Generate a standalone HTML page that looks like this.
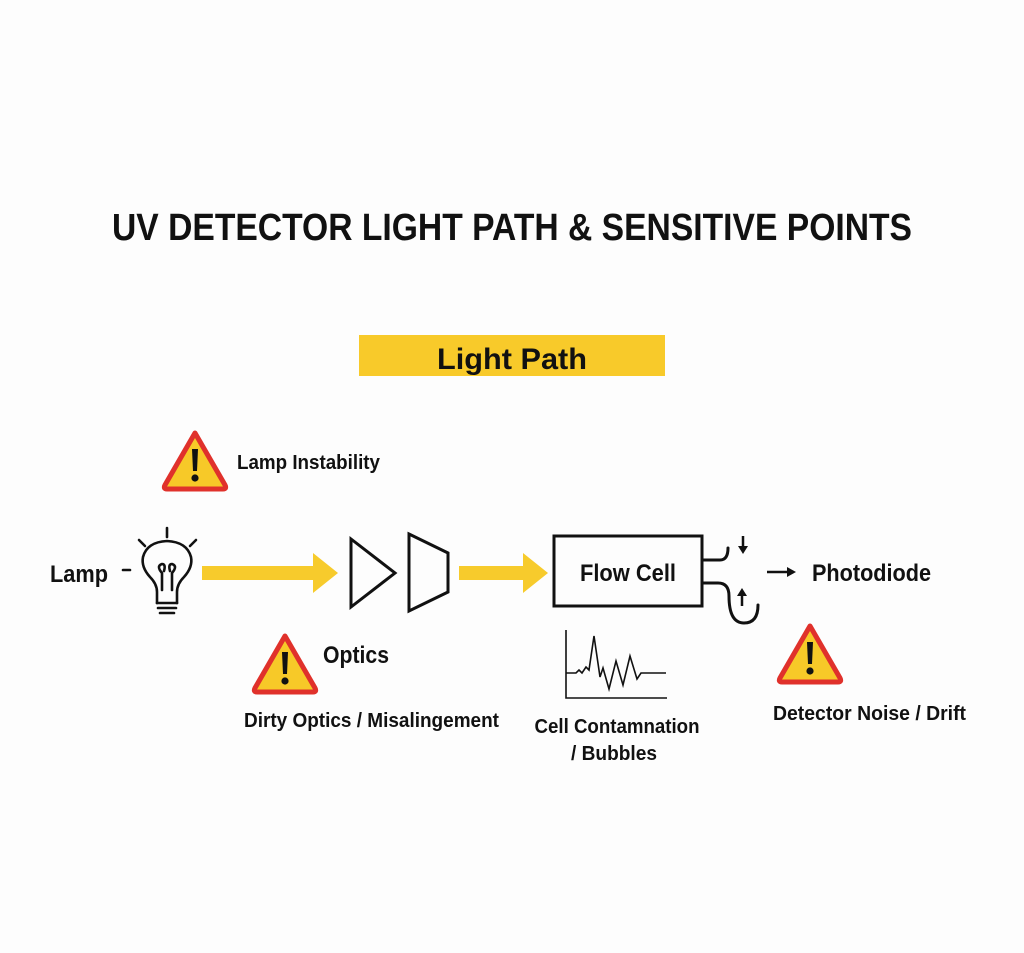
<!DOCTYPE html>
<html><head><meta charset="utf-8"><style>
html,body{margin:0;padding:0;background:#fdfdfd}
svg{display:block}
text{font-family:"Liberation Sans Narrow","Liberation Sans",sans-serif;font-weight:bold;fill:#111}
</style></head><body>
<svg width="1024" height="953" viewBox="0 0 1024 953" xmlns="http://www.w3.org/2000/svg">
<defs>
<g id="warn">
<path d="M34 4 L64 56 Q66 60 62 60 L6 60 Q2 60 4 56 Z" fill="#F7C928" stroke="#E0312B" stroke-width="5" stroke-linejoin="round"/>
<path d="M31 20 L37 20 L36 42 L32 42 Z" fill="#111"/>
<circle cx="34" cy="49" r="3.6" fill="#111"/>
</g>
</defs>
<text x="512" y="240" font-size="38" text-anchor="middle" textLength="800" lengthAdjust="spacingAndGlyphs">UV DETECTOR LIGHT PATH &amp; SENSITIVE POINTS</text>
<rect x="359" y="335" width="306" height="41" fill="#F8CA2A"/>
<text x="512" y="369" font-size="30" text-anchor="middle" textLength="150" lengthAdjust="spacingAndGlyphs">Light Path</text>

<use href="#warn" x="161" y="429"/>
<text x="237" y="469" font-size="20" textLength="143" lengthAdjust="spacingAndGlyphs">Lamp Instability</text>

<text x="50" y="582" font-size="24" textLength="58" lengthAdjust="spacingAndGlyphs">Lamp</text>
<!-- bulb -->
<g fill="none" stroke="#111" stroke-width="2.6" stroke-linecap="round">
<line x1="123" y1="570" x2="130" y2="570"/>
<line x1="167" y1="528" x2="167" y2="537"/>
<line x1="139" y1="540" x2="145" y2="546"/>
<line x1="196" y1="540" x2="190" y2="546"/>
<path d="M157 603 L157 592 Q157 584 150 577 Q141 567 143 557 Q147 542 167 541 Q187 542 191 557 Q193 567 184 577 Q177 584 177 592 L177 603"/>
<path d="M162 590 L162 573 M172 590 L172 573 M162 573 Q156 566 162 564 Q166 564 164 571 M172 573 Q178 566 172 564 Q168 564 170 571"/>
<line x1="157" y1="603" x2="177" y2="603"/>
<line x1="158" y1="608" x2="176" y2="608"/>
<path d="M160 613 L174 613"/>
</g>
<!-- arrow 1 -->
<path d="M202 566 L313 566 L313 553 L338 573 L313 593 L313 580 L202 580 Z" fill="#F7CB2C"/>
<!-- optics -->
<path d="M351 539 L395 573 L351 607 Z" fill="none" stroke="#111" stroke-width="3" stroke-linejoin="miter"/>
<path d="M409 534 L448 553 L448 592 L409 611 Z" fill="none" stroke="#111" stroke-width="3"/>
<!-- arrow 2 -->
<path d="M459 566 L523 566 L523 553 L548 573 L523 593 L523 580 L459 580 Z" fill="#F7CB2C"/>
<!-- flow cell -->
<rect x="554" y="536" width="148" height="70" fill="none" stroke="#111" stroke-width="3"/>
<text x="628" y="581" font-size="24" text-anchor="middle" textLength="96" lengthAdjust="spacingAndGlyphs">Flow Cell</text>
<g fill="none" stroke="#111" stroke-width="3" stroke-linecap="round">
<path d="M703 560 L720 560 Q728 560 728 548"/>
<path d="M703 583 L718 583 Q729 583 729 596 Q729 623 744 623 Q758 623 758 605"/>
</g>
<path d="M743 536 L743 548" stroke="#111" stroke-width="2.5"/><path d="M738 546 L743 554 L748 546 Z" fill="#111"/>
<path d="M742 606 L742 594" stroke="#111" stroke-width="2.5"/><path d="M737 596 L742 588 L747 596 Z" fill="#111"/>
<path d="M767 572 L788 572" stroke="#111" stroke-width="2.5"/><path d="M787 567 L796 572 L787 577 Z" fill="#111"/>
<text x="812" y="581" font-size="24" textLength="119" lengthAdjust="spacingAndGlyphs">Photodiode</text>

<!-- graph -->
<g fill="none" stroke="#111" stroke-width="1.6">
<path d="M566 630 L566 698 L667 698"/>
<path d="M566 673 L576 673 L579 670 L582 673 L586 667 L589 670 L594 636 L600 677 L603 668 L609 689 L616 661 L623 685 L630 656 L637 679 L641 673 L646 673 L666 673"/>
</g>
<text x="617" y="733" font-size="20" text-anchor="middle" textLength="165" lengthAdjust="spacingAndGlyphs">Cell Contamnation</text>
<text x="614" y="760" font-size="20" text-anchor="middle" textLength="86" lengthAdjust="spacingAndGlyphs">/ Bubbles</text>

<use href="#warn" x="251" y="632"/>
<text x="323" y="663" font-size="24" textLength="66" lengthAdjust="spacingAndGlyphs">Optics</text>
<text x="244" y="727" font-size="20" textLength="255" lengthAdjust="spacingAndGlyphs">Dirty Optics / Misalingement</text>

<use href="#warn" x="776" y="622"/>
<text x="773" y="720" font-size="20" textLength="193" lengthAdjust="spacingAndGlyphs">Detector Noise / Drift</text>
</svg>
</body></html>
